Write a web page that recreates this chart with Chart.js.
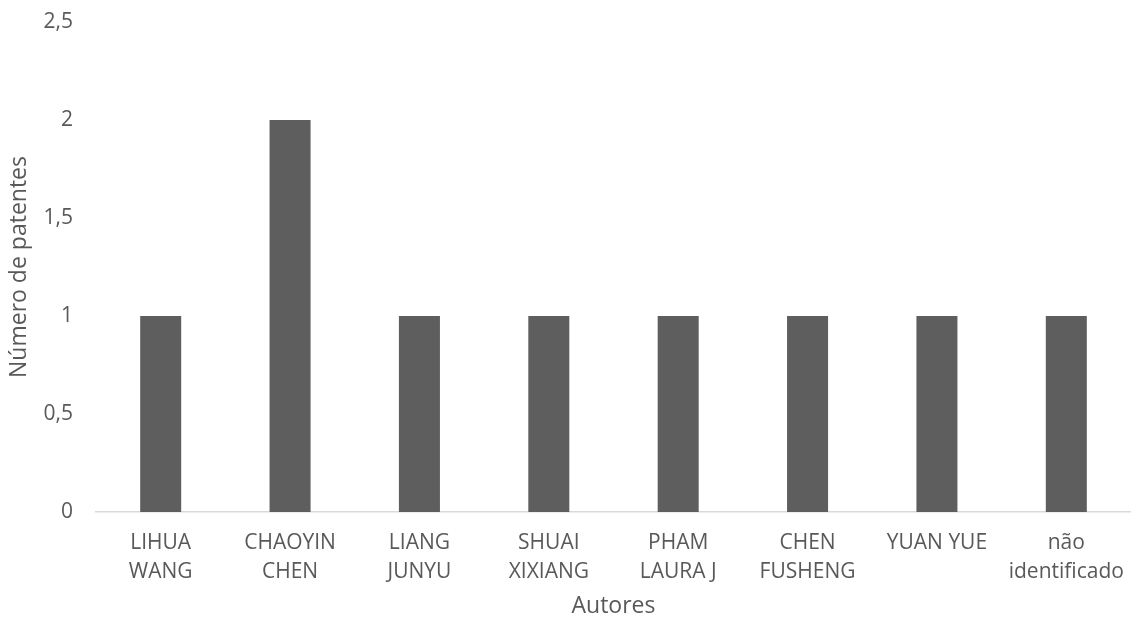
<!DOCTYPE html>
<html>
<head>
<meta charset="utf-8">
<script src="https://cdn.jsdelivr.net/npm/chart.js@4"></script>
<style>
  html, body { margin: 0; padding: 0; background: #ffffff; }
  #wrap { width: 1131px; height: 622px; position: relative; }
</style>
</head>
<body>
<div id="wrap"><canvas id="c"></canvas></div>
<script>
// Patents per author
const authors = [
  ['LIHUA', 'WANG'],
  ['CHAOYIN', 'CHEN'],
  ['LIANG', 'JUNYU'],
  ['SHUAI', 'XIXIANG'],
  ['PHAM', 'LAURA J'],
  ['CHEN', 'FUSHENG'],
  'YUAN YUE',
  ['não', 'identificado']
];
const patentCounts = [1, 2, 1, 1, 1, 1, 1, 1];
const yTicks = [0, 0.5, 1, 1.5, 2, 2.5];

const textColor = '#595959';
const family = "'Open Sans', sans-serif";
const tickFont = { family, size: 21, lineHeight: 1.36 };
const titleFont = { family, size: 23, lineHeight: 1.2 };

new Chart(document.getElementById('c'), {
  type: 'bar',
  data: {
    labels: authors,
    datasets: [{
      data: patentCounts,
      backgroundColor: '#5e5e5e',
      borderWidth: 0,
      barPercentage: 0.317,
      categoryPercentage: 1
    }]
  },
  options: {
    responsive: true,
    maintainAspectRatio: false,
    animation: false,
    layout: { padding: { top: 22, left: 0, right: 0, bottom: 0 } },
    plugins: { legend: { display: false }, tooltip: { enabled: false } },
    scales: {
      y: {
        min: 0,
        max: 2.5,
        afterBuildTicks: s => { s.ticks = yTicks.map(v => ({ value: v })); },
        afterFit: s => { s.width = 96; s.paddingTop = 0; s.paddingBottom = 0; },
        grid: { display: false, drawTicks: false },
        border: { display: false },
        ticks: {
          color: textColor,
          font: tickFont,
          padding: 23,
          callback: v => String(v).replace('.', ',')
        },
        title: {
          display: true,
          text: 'Número de patentes',
          color: textColor,
          font: titleFont,
          padding: { top: 6, bottom: 0 }
        }
      },
      x: {
        afterFit: s => { s.height = 110; s.paddingLeft = 0; s.paddingRight = 0; },
        grid: { display: false, drawTicks: false },
        border: { display: true, color: '#d9d9d9', width: 1.5 },
        ticks: {
          color: textColor,
          font: tickFont,
          padding: 17,
          maxRotation: 0,
          autoSkip: false
        },
        title: {
          display: true,
          text: 'Autores',
          color: textColor,
          font: titleFont,
          padding: { top: 0, bottom: 2 }
        }
      }
    }
  }
});
</script>
</body>
</html>
